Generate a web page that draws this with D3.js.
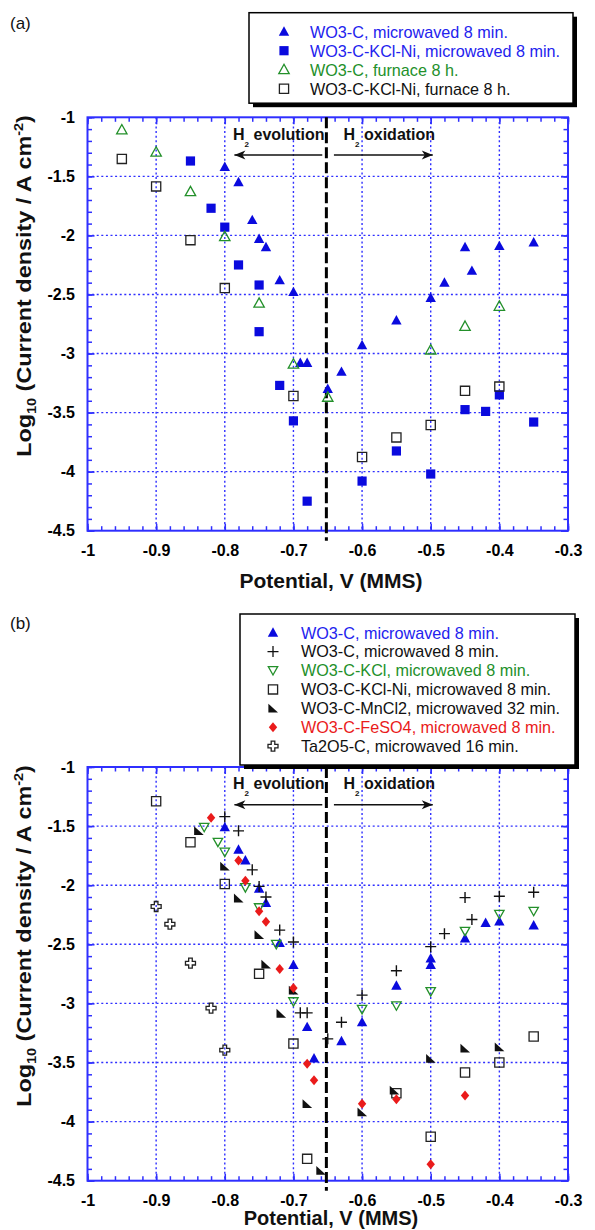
<!DOCTYPE html>
<html>
<head>
<meta charset="utf-8">
<script src="https://cdn.jsdelivr.net/npm/d3@7"></script>
<style>
  body { margin: 0; background: #fff; }
  svg { display: block; font-family: "Liberation Sans", Arial, sans-serif; }
</style>
</head>
<body>
<svg id="chart" width="595" height="1230"></svg>
<script>
// ---- axis ticks ----
const xTickValues = [-1, -0.9, -0.8, -0.7, -0.6, -0.5, -0.4, -0.3];
const xTickLabels = ["-1", "-0.9", "-0.8", "-0.7", "-0.6", "-0.5", "-0.4", "-0.3"];
const yTickValues = [-1, -1.5, -2, -2.5, -3, -3.5, -4, -4.5];
const yTickLabels = ["-1", "-1.5", "-2", "-2.5", "-3", "-3.5", "-4", "-4.5"];

// ---- annotation values (potential V, log current) ----
const boundaryPotential = -0.652;
const arrowLevel = -1.32;
const evolutionArrow = [-0.658, -0.786];
const oxidationArrow = [-0.641, -0.497];
const regionTextLevel = -1.19;
const evolutionTextStart = -0.788;
const oxidationTextStart = -0.627;

// ---- panel (a): [potential, log10 current density] ----
const aWO3C_mw8 = [[-0.80,-1.42],[-0.78,-1.55],[-0.76,-1.87],[-0.75,-2.03],[-0.74,-2.10],[-0.72,-2.38],
  [-0.70,-2.48],[-0.69,-3.08],[-0.68,-3.08],[-0.65,-3.30],[-0.63,-3.155],[-0.60,-2.93],[-0.55,-2.72],
  [-0.50,-2.53],[-0.48,-2.40],[-0.45,-2.10],[-0.44,-2.30],[-0.40,-2.09],[-0.35,-2.06]];
const aWO3CKClNi_mw8 = [[-0.85,-1.37],[-0.82,-1.77],[-0.80,-1.93],[-0.78,-2.25],[-0.75,-2.42],[-0.75,-2.815],
  [-0.72,-3.27],[-0.70,-3.57],[-0.68,-4.25],[-0.60,-4.08],[-0.55,-3.825],[-0.50,-4.02],[-0.45,-3.475],
  [-0.42,-3.49],[-0.40,-3.35],[-0.35,-3.58]];
const aWO3C_furnace = [[-0.95,-1.107],[-0.90,-1.295],[-0.85,-1.63],[-0.80,-2.01],[-0.75,-2.574],[-0.70,-3.09],
  [-0.65,-3.37],[-0.50,-2.97],[-0.45,-2.77],[-0.40,-2.60]];
const aWO3CKClNi_furnace = [[-0.95,-1.352],[-0.90,-1.585],[-0.85,-2.04],[-0.80,-2.446],[-0.70,-3.36],[-0.60,-3.876],
  [-0.55,-3.71],[-0.50,-3.605],[-0.45,-3.316],[-0.40,-3.28]];
const aLegendLabels = ["WO3-C, microwaved 8 min.", "WO3-C-KCl-Ni, microwaved 8 min.",
  "WO3-C, furnace 8 h.", "WO3-C-KCl-Ni, furnace 8 h."];

// ---- panel (b) ----
const bWO3C_mw8 = [[-0.80,-1.51],[-0.78,-1.70],[-0.77,-1.79],[-0.75,-2.03],[-0.74,-2.15],[-0.72,-2.49],
  [-0.70,-2.676],[-0.68,-3.20],[-0.67,-3.466],[-0.63,-3.32],[-0.60,-3.16],[-0.55,-2.85],[-0.50,-2.675],
  [-0.50,-2.62],[-0.45,-2.45],[-0.42,-2.32],[-0.40,-2.307],[-0.35,-2.34]];
const bWO3C_mw8b = [[-0.80,-1.42],[-0.78,-1.54],[-0.76,-1.87],[-0.75,-2.01],[-0.74,-2.10],[-0.72,-2.38],
  [-0.70,-2.48],[-0.69,-3.08],[-0.68,-3.08],[-0.65,-3.30],[-0.63,-3.16],[-0.60,-2.93],[-0.55,-2.724],
  [-0.50,-2.52],[-0.48,-2.41],[-0.45,-2.105],[-0.44,-2.29],[-0.40,-2.093],[-0.35,-2.06]];
const bWO3CKCl_mw8 = [[-0.83,-1.51],[-0.81,-1.636],[-0.80,-1.72],[-0.77,-2.02],[-0.75,-2.19],[-0.725,-2.50],
  [-0.70,-2.985],[-0.60,-3.05],[-0.55,-3.02],[-0.50,-2.90],[-0.45,-2.39],[-0.40,-2.246],[-0.35,-2.22]];
const bWO3CKClNi_mw8 = [[-0.90,-1.29],[-0.85,-1.636],[-0.80,-1.99],[-0.75,-2.75],[-0.70,-3.34],[-0.68,-4.315],
  [-0.55,-3.76],[-0.50,-4.128],[-0.45,-3.585],[-0.40,-3.50],[-0.35,-3.28]];
const bWO3CMnCl2_mw32 = [[-0.838,-1.54],[-0.80,-1.84],[-0.78,-2.11],[-0.75,-2.42],[-0.74,-2.67],[-0.70,-2.89],
  [-0.718,-3.085],[-0.68,-3.85],[-0.66,-4.415],[-0.60,-3.92],[-0.553,-3.736],[-0.50,-3.466],[-0.45,-3.38],
  [-0.40,-3.37]];
const bWO3CFeSO4_mw8 = [[-0.82,-1.43],[-0.78,-1.79],[-0.77,-1.963],[-0.75,-2.22],[-0.74,-2.31],[-0.72,-2.71],
  [-0.70,-2.87],[-0.68,-3.51],[-0.67,-3.65],[-0.60,-3.85],[-0.55,-3.81],[-0.50,-4.36],[-0.45,-3.78]];
const bTa2O5C_mw16 = [[-0.90,-2.18],[-0.88,-2.33],[-0.85,-2.66],[-0.82,-3.04],[-0.80,-3.395]];
const bLegendLabels = ["WO3-C, microwaved 8 min.", "WO3-C, microwaved 8 min.", "WO3-C-KCl, microwaved 8 min.",
  "WO3-C-KCl-Ni, microwaved 8 min.", "WO3-C-MnCl2, microwaved 32 min.", "WO3-C-FeSO4, microwaved 8 min.",
  "Ta2O5-C, microwaved 16 min."];

// ---- styling ----
const BLUE = "#0a0ade", BLUE_TXT = "#2323ee", GREEN = "#23902a", RED = "#ea1b1b", AXIS = "#2f2fff";

const styles = {
  blueTri:   { shape: "triUp",   fill: BLUE,  stroke: "none", text: BLUE_TXT },
  blueSq:    { shape: "square",  fill: BLUE,  stroke: "none", text: BLUE_TXT },
  greenTri:  { shape: "triUp",   fill: "none", stroke: GREEN, text: GREEN },
  greenInv:  { shape: "triDown", fill: "none", stroke: GREEN, text: GREEN },
  openSq:    { shape: "square",  fill: "none", stroke: "#222", text: "#111" },
  plus:      { shape: "plus",    fill: "none", stroke: "#111", text: "#111" },
  wedge:     { shape: "wedge",   fill: "#111", stroke: "none", text: "#111" },
  redDia:    { shape: "diamond", fill: RED,   stroke: "none", text: RED },
  cross:     { shape: "cross",   fill: "none", stroke: "#222", text: "#111" }
};

function markerPath(shape) {
  switch (shape) {
    case "triUp":   return "M0,-5.4L5.2,4L-5.2,4Z";
    case "triDown": return "M-4.7,-3.9L4.7,-3.9L0,4.5Z";
    case "square":  return "M-4.6,-4.6H4.6V4.6H-4.6Z";
    case "diamond": return "M0,-5L4.2,0L0,5L-4.2,0Z";
    case "plus":    return "M-5.5,0H5.5M0,-5.5V5.5";
    case "wedge":   return "M-4.6,-4.6L-4.6,4.2L5,4.2Z";
    case "cross":   return "M-1.8,-5H1.8V-1.8H5V1.8H1.8V5H-1.8V1.8H-5V-1.8H-1.8Z";
  }
}

const svg = d3.select("#chart");
const left = 87.5, right = 568;

svg.append("defs").append("marker")
  .attr("id", "arrowHead").attr("viewBox", "-12 -6 14 12")
  .attr("refX", 0).attr("refY", 0).attr("markerWidth", 14).attr("markerHeight", 12)
  .attr("markerUnits", "userSpaceOnUse").attr("orient", "auto")
  .append("path").attr("d", "M0,0L-11,-4.5L-8,0L-11,4.5Z").attr("fill", "#111");

function drawMarkers(g, x, y, data, st, cls) {
  g.append("g").attr("class", cls).selectAll("path").data(data).join("path")
    .attr("transform", d => `translate(${x(d[0])},${y(d[1])})`)
    .attr("d", markerPath(st.shape))
    .attr("fill", st.fill)
    .attr("stroke", st.stroke === "none" ? null : st.stroke)
    .attr("stroke-width", st.shape === "plus" ? 1.4 : 1.3);
}

function drawPanel(cfg) {
  const g = svg.append("g");
  const x = d3.scaleLinear().domain([-1, -0.3]).range([left, right]);
  const y = d3.scaleLinear().domain([-1, -4.5]).range([cfg.top, cfg.bottom]);

  // dotted grid
  g.append("g").selectAll("line").data(xTickValues.slice(1, -1)).join("line")
    .attr("x1", d => x(d)).attr("x2", d => x(d)).attr("y1", cfg.top).attr("y2", cfg.bottom)
    .attr("stroke", AXIS).attr("stroke-width", 1.4).attr("stroke-dasharray", "2,2.6");
  g.append("g").selectAll("line").data(yTickValues.slice(1, -1)).join("line")
    .attr("y1", d => y(d)).attr("y2", d => y(d)).attr("x1", left).attr("x2", right)
    .attr("stroke", AXIS).attr("stroke-width", 1.4).attr("stroke-dasharray", "2,2.6");

  // ticks (inward) on all four sides
  const minorX = d3.range(0, 36).map(i => -1 + i * 0.02);
  const minorY = d3.range(0, 36).map(i => -1 - i * 0.1);
  const tickGroup = (axis, tr) => {
    const t = g.append("g").attr("transform", tr).call(axis);
    t.select(".domain").remove();
    t.selectAll("line").attr("stroke", AXIS).attr("stroke-width", 1.5);
    return t;
  };
  tickGroup(d3.axisBottom(x).tickValues(minorX).tickSize(-4.5).tickFormat(""), `translate(0,${cfg.bottom})`);
  tickGroup(d3.axisTop(x).tickValues(minorX).tickSize(-4.5).tickFormat(""), `translate(0,${cfg.top})`);
  tickGroup(d3.axisLeft(y).tickValues(minorY).tickSize(-4.5).tickFormat(""), `translate(${left},0)`);
  tickGroup(d3.axisRight(y).tickValues(minorY).tickSize(-4.5).tickFormat(""), `translate(${right},0)`);
  const xb = tickGroup(d3.axisBottom(x).tickValues(xTickValues).tickSize(-7).tickPadding(14)
    .tickFormat((d, i) => xTickLabels[i]), `translate(0,${cfg.bottom})`);
  tickGroup(d3.axisTop(x).tickValues(xTickValues).tickSize(-7).tickFormat(""), `translate(0,${cfg.top})`);
  const yl = tickGroup(d3.axisLeft(y).tickValues(yTickValues).tickSize(-7).tickPadding(12.5)
    .tickFormat((d, i) => yTickLabels[i]), `translate(${left},0)`);
  tickGroup(d3.axisRight(y).tickValues(yTickValues).tickSize(-7).tickFormat(""), `translate(${right},0)`);
  [xb, yl].forEach(a => a.selectAll("text")
    .attr("fill", "#000").attr("font-size", 16).attr("font-weight", "bold")
    .attr("font-family", "'Liberation Sans', Arial, sans-serif"));

  // frame
  g.append("rect").attr("x", left).attr("y", cfg.top).attr("width", right - left).attr("height", cfg.bottom - cfg.top)
    .attr("fill", "none").attr("stroke", AXIS).attr("stroke-width", 2);

  // boundary between H2 evolution and oxidation
  g.append("line").attr("x1", x(boundaryPotential)).attr("x2", x(boundaryPotential))
    .attr("y1", cfg.top).attr("y2", cfg.bottom + 10)
    .attr("stroke", "#000").attr("stroke-width", 3).attr("stroke-dasharray", "11,4");

  // region arrows and labels
  [evolutionArrow, oxidationArrow].forEach(a => {
    g.append("line").attr("x1", x(a[0])).attr("x2", x(a[1])).attr("y1", y(arrowLevel)).attr("y2", y(arrowLevel))
      .attr("stroke", "#111").attr("stroke-width", 1.5).attr("marker-end", "url(#arrowHead)");
  });
  [[evolutionTextStart, "evolution"], [oxidationTextStart, "oxidation"]].forEach(([p, word]) => {
    const t = g.append("text").attr("x", x(p)).attr("y", y(regionTextLevel))
      .attr("font-size", 16).attr("font-weight", "bold").attr("fill", "#111");
    t.append("tspan").text("H");
    t.append("tspan").attr("font-size", 8).attr("dy", 7).text("2");
    t.append("tspan").attr("dy", -7).text(" " + word);
  });

  // data
  cfg.series.forEach((s, i) => drawMarkers(g, x, y, s.data, s.style, "series-" + i));

  // legend
  const L = cfg.legend;
  g.append("rect").attr("x", L.x + 4).attr("y", L.y + 4).attr("width", L.w).attr("height", L.h).attr("fill", "#000");
  g.append("rect").attr("x", L.x).attr("y", L.y).attr("width", L.w).attr("height", L.h)
    .attr("fill", "#fff").attr("stroke", "#000").attr("stroke-width", 1.5);
  const rows = g.append("g").selectAll("g").data(cfg.series).join("g")
    .attr("transform", (d, i) => `translate(0,${L.firstRow + i * L.step})`);
  rows.append("path").attr("transform", `translate(${L.markerX},0)`)
    .attr("d", d => markerPath(d.style.shape))
    .attr("fill", d => d.style.fill)
    .attr("stroke", d => d.style.stroke === "none" ? null : d.style.stroke)
    .attr("stroke-width", 1.3);
  rows.append("text").attr("x", L.textX).attr("y", 5.8)
    .attr("font-size", 16.2).attr("fill", d => d.style.text).text(d => d.label);

  // panel tag
  g.append("text").attr("x", 10).attr("y", cfg.tagY).attr("font-size", 17).attr("fill", "#111").text(cfg.tag);

  // axis titles
  g.append("text").attr("x", 331).attr("y", cfg.xTitleY).attr("text-anchor", "middle")
    .attr("font-size", cfg.xTitleSize).attr("font-weight", "bold").attr("fill", "#111").text("Potential, V (MMS)");
  const yt = g.append("text").attr("text-anchor", "middle")
    .attr("font-size", 21).attr("font-weight", "bold").attr("fill", "#111");
  yt.append("tspan").text("Log");
  yt.append("tspan").attr("font-size", 13).attr("dy", 5).text("10");
  yt.append("tspan").attr("dy", -5).text(" (Current density / A cm");
  yt.append("tspan").attr("font-size", 13).attr("dy", -8).text("-2");
  yt.append("tspan").attr("dy", 8).text(")");
  const w = yt.node().getComputedTextLength();
  yt.attr("transform", `translate(31,${cfg.yTitleMid}) rotate(-90) scale(${342 / w},1)`);
}

drawPanel({
  top: 117.3, bottom: 530.7, tag: "(a)", tagY: 29, xTitleY: 588, xTitleSize: 21, yTitleMid: 286,
  legend: { x: 249, y: 12.7, w: 324, h: 90.5, firstRow: 31.7, step: 19, markerX: 284, textX: 310 },
  series: [
    { data: aWO3C_mw8, style: styles.blueTri, label: aLegendLabels[0] },
    { data: aWO3CKClNi_mw8, style: styles.blueSq, label: aLegendLabels[1] },
    { data: aWO3C_furnace, style: styles.greenTri, label: aLegendLabels[2] },
    { data: aWO3CKClNi_furnace, style: styles.openSq, label: aLegendLabels[3] }
  ]
});

drawPanel({
  top: 767, bottom: 1180.7, tag: "(b)", tagY: 629, xTitleY: 1225, xTitleSize: 20, yTitleMid: 936,
  legend: { x: 240, y: 614, w: 335, h: 151, firstRow: 632.7, step: 18.9, markerX: 273, textX: 301 },
  series: [
    { data: bWO3C_mw8, style: styles.blueTri, label: bLegendLabels[0] },
    { data: bWO3C_mw8b, style: styles.plus, label: bLegendLabels[1] },
    { data: bWO3CKCl_mw8, style: styles.greenInv, label: bLegendLabels[2] },
    { data: bWO3CKClNi_mw8, style: styles.openSq, label: bLegendLabels[3] },
    { data: bWO3CMnCl2_mw32, style: styles.wedge, label: bLegendLabels[4] },
    { data: bWO3CFeSO4_mw8, style: styles.redDia, label: bLegendLabels[5] },
    { data: bTa2O5C_mw16, style: styles.cross, label: bLegendLabels[6] }
  ]
});
</script>
</body>
</html>
